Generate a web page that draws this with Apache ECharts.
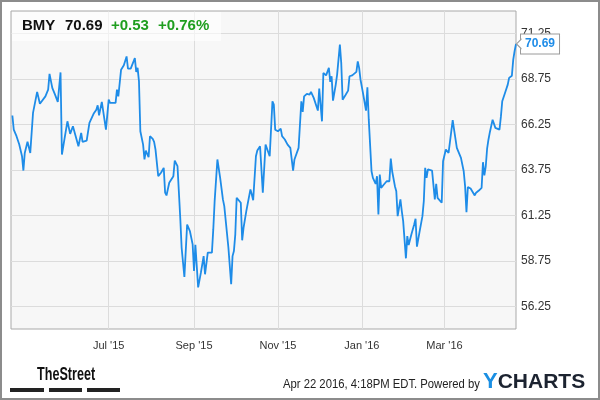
<!DOCTYPE html>
<html><head><meta charset="utf-8">
<script src="https://cdn.jsdelivr.net/npm/echarts@6/dist/echarts.min.js"></script>
<style>html,body{margin:0;padding:0;background:#fff}#c{width:600px;height:400px}</style>
</head><body><div id="c"></div>
<script>
const dates = [
'2015-04-22','2015-04-23','2015-04-25','2015-04-27','2015-04-29','2015-04-30','2015-05-01','2015-05-03','2015-05-05','2015-05-07',
'2015-05-10','2015-05-12','2015-05-13','2015-05-16','2015-05-18','2015-05-19','2015-05-21','2015-05-23','2015-05-25','2015-05-27',
'2015-05-28','2015-05-30','2015-06-01','2015-06-03','2015-06-05','2015-06-07','2015-06-09','2015-06-11','2015-06-12','2015-06-15',
'2015-06-17','2015-06-20','2015-06-22','2015-06-23','2015-06-24','2015-06-26','2015-06-29','2015-07-01','2015-07-02','2015-07-06',
'2015-07-07','2015-07-08','2015-07-10','2015-07-12','2015-07-14','2015-07-15','2015-07-17','2015-07-20','2015-07-21','2015-07-22',
'2015-07-23','2015-07-24','2015-07-26','2015-07-27','2015-07-28','2015-07-30','2015-07-31','2015-08-02','2015-08-03','2015-08-04',
'2015-08-05','2015-08-06','2015-08-08','2015-08-10','2015-08-11','2015-08-12','2015-08-14','2015-08-17','2015-08-18','2015-08-20',
'2015-08-22','2015-08-23','2015-08-25','2015-08-27','2015-08-29','2015-08-31','2015-09-01','2015-09-02','2015-09-04','2015-09-06',
'2015-09-08','2015-09-09','2015-09-11','2015-09-14','2015-09-15','2015-09-16','2015-09-18','2015-09-20','2015-09-22','2015-09-23',
'2015-09-24','2015-09-26','2015-09-28','2015-09-29','2015-09-30','2015-10-01','2015-10-02','2015-10-05','2015-10-06','2015-10-07',
'2015-10-08','2015-10-09','2015-10-12','2015-10-13','2015-10-14','2015-10-16','2015-10-17','2015-10-19','2015-10-21','2015-10-23',
'2015-10-26','2015-10-28','2015-10-29','2015-10-30','2015-11-01','2015-11-02','2015-11-03','2015-11-04','2015-11-06','2015-11-08',
'2015-11-10','2015-11-12','2015-11-13','2015-11-16','2015-11-18','2015-11-19','2015-11-20','2015-11-22','2015-11-24','2015-11-25',
'2015-11-27','2015-11-30','2015-12-01','2015-12-03','2015-12-04','2015-12-06','2015-12-07','2015-12-08','2015-12-09','2015-12-10',
'2015-12-11','2015-12-13','2015-12-14','2015-12-16','2015-12-17','2015-12-18','2015-12-20','2015-12-22','2015-12-23','2015-12-25',
'2015-12-28','2015-12-29','2015-12-30','2015-12-31','2016-01-02','2016-01-04','2016-01-05','2016-01-06','2016-01-08','2016-01-09',
'2016-01-11','2016-01-12','2016-01-13','2016-01-14','2016-01-15','2016-01-17','2016-01-19','2016-01-20','2016-01-21','2016-01-22',
'2016-01-23','2016-01-25','2016-01-26','2016-01-27','2016-01-29','2016-01-30','2016-01-31','2016-02-02','2016-02-03','2016-02-04',
'2016-02-06','2016-02-08','2016-02-09','2016-02-10','2016-02-12','2016-02-14','2016-02-15','2016-02-16','2016-02-17','2016-02-18',
'2016-02-21','2016-02-23','2016-02-24','2016-02-25','2016-02-28','2016-02-29','2016-03-02','2016-03-03','2016-03-04','2016-03-07',
'2016-03-08','2016-03-10','2016-03-11','2016-03-13','2016-03-15','2016-03-16','2016-03-17','2016-03-18','2016-03-20','2016-03-21',
'2016-03-23','2016-03-24','2016-03-26','2016-03-28','2016-03-29','2016-03-30','2016-03-31','2016-04-01','2016-04-02','2016-04-03',
'2016-04-04','2016-04-05','2016-04-07','2016-04-08','2016-04-10','2016-04-11','2016-04-12','2016-04-14','2016-04-16','2016-04-17',
'2016-04-19','2016-04-20','2016-04-21','2016-04-22'
];
const prices = [
66.75,65.97,65.61,65.15,64.51,63.72,64.69,65.30,64.69,66.89,
68.05,67.40,67.40,67.80,68.17,69.04,68.27,67.90,67.50,69.12,
64.60,65.52,66.43,65.74,66.16,65.61,65.06,65.79,65.30,65.37,
66.34,66.84,67.07,67.31,66.76,67.50,65.97,67.62,67.44,67.44,
68.17,67.80,69.27,69.51,70.00,69.33,69.33,69.91,69.15,69.37,
68.63,65.88,65.15,64.33,64.82,64.45,65.61,65.46,65.30,64.88,
64.97,63.41,63.60,63.87,62.50,62.35,63.05,63.41,64.27,63.96,
61.12,59.47,57.86,60.75,60.39,59.66,58.19,59.63,57.29,58.10,
59.01,58.01,59.20,59.20,60.48,62.04,64.33,63.32,62.13,61.76,
61.76,59.47,57.46,59.01,59.29,60.21,62.22,61.95,59.88,60.57,
60.48,61.49,62.68,62.40,62.09,64.51,64.82,65.06,62.50,65.15,
64.51,67.53,67.35,65.97,65.88,65.79,66.03,65.61,65.43,65.15,
64.97,63.72,64.33,64.97,67.53,66.95,67.80,67.94,67.90,68.05,
67.72,67.02,68.23,66.43,69.09,68.96,68.85,69.37,68.60,68.91,
67.57,68.45,69.00,70.65,69.64,67.62,67.86,68.12,68.91,68.96,
69.15,69.73,69.37,68.72,67.90,67.02,68.30,66.52,63.68,63.32,
62.99,63.41,61.30,63.50,62.77,62.95,63.13,63.23,63.13,64.38,
63.68,62.86,62.58,61.21,62.13,61.49,60.94,58.89,60.11,59.62,
60.21,60.75,61.07,59.53,60.39,61.21,62.04,63.87,63.32,63.78,
63.72,62.13,62.99,62.22,61.95,64.23,64.88,64.97,64.69,66.49,
65.97,64.97,64.88,64.42,63.68,62.86,61.43,62.81,62.73,62.77,
62.35,62.50,62.62,62.77,64.18,63.45,63.93,64.92,65.43,65.83,
65.74,66.52,66.07,66.01,65.97,66.67,67.53,67.99,68.45,68.82,
68.94,69.82,70.30,70.69
];
const yTicks = [56.25, 58.75, 61.25, 63.75, 66.25, 68.75, 71.25];
const xTicks = ['2015-07-01','2015-09-01','2015-11-01','2016-01-01','2016-03-01'];
const xTickLabels = ["Jul '15", "Sep '15", "Nov '15", "Jan '16", "Mar '16"];
const xRange = ['2015-04-21', '2016-04-22'];
const headerTexts = ['BMY', '70.69', '+0.53', '+0.76%'];
const footerText = 'Apr 22 2016, 4:18PM EDT. Powered by';

const FONT = "'Liberation Sans', Arial, sans-serif";
const toTs = s => { const p = s.split('-').map(Number); return Date.UTC(p[0], p[1] - 1, p[2]); };
const xTickTs = xTicks.map(toTs);
const lineColor = '#1e8ce8';
const green = '#1f9e1f';
const seriesData = dates.map((d, i) => [toTs(d), prices[i]]);

const chart = echarts.init(document.getElementById('c'), null, {renderer: 'canvas'});
chart.setOption({
  animation: false,
  backgroundColor: '#ffffff',
  grid: {left: 11, right: 84, top: 11, bottom: 71, show: true, backgroundColor: '#f7f7f7', borderColor: '#a9a9a9', borderWidth: 1},
  xAxis: {
    type: 'value', min: toTs(xRange[0]), max: toTs(xRange[1]), scale: true,
    axisLine: {show: false}, axisTick: {show: false, customValues: xTickTs},
    splitLine: {show: true, lineStyle: {color: '#dcdcdc', width: 1}},
    axisLabel: {customValues: xTickTs, color: '#333', fontSize: 11, fontFamily: FONT, margin: 11,
      formatter: v => { const i = xTickTs.indexOf(v); return i >= 0 ? xTickLabels[i] : ''; }}
  },
  yAxis: {
    type: 'value', position: 'right', min: 55, max: 72.5,
    axisLine: {show: false}, axisTick: {show: false, customValues: yTicks},
    splitLine: {show: true, lineStyle: {color: '#dcdcdc', width: 1}},
    axisLabel: {customValues: yTicks, color: '#333', fontSize: 12, fontFamily: FONT, margin: 5,
      formatter: v => v.toFixed(2)}
  },
  series: [{
    type: 'line', data: seriesData,
    showSymbol: false, symbol: 'none',
    lineStyle: {color: lineColor, width: 1.8}, itemStyle: {color: lineColor},
    endLabel: {show: true, formatter: p => p.value[1].toFixed(2), color: lineColor, fontWeight: 'bold',
      fontSize: 12, fontFamily: FONT, backgroundColor: '#fff', borderColor: '#9a9a9a', borderWidth: 1,
      padding: [4, 4, 3, 4], distance: 5},
    markPoint: {silent: true, symbol: 'path://M10,0 L0,6 L10,12', symbolSize: [5, 10], symbolOffset: [3, 0],
      itemStyle: {color: '#fff', borderColor: '#9a9a9a', borderWidth: 1}, label: {show: false},
      data: [{coord: seriesData[seriesData.length - 1]}]}
  }],
  graphic: [
    {type: 'rect', z: 50, shape: {x: 1, y: 1, width: 598, height: 398}, style: {fill: 'none', stroke: '#8c8c8c', lineWidth: 2}},
    {type: 'rect', z: 5, shape: {x: 12, y: 12, width: 209, height: 29}, style: {fill: 'rgba(255,255,255,0.6)'}},
    {type: 'text', z: 6, x: 22, y: 26, style: {text: headerTexts[0], fill: '#111', font: "bold 15px " + FONT, textVerticalAlign: 'middle'}},
    {type: 'text', z: 6, x: 65, y: 26, style: {text: headerTexts[1], fill: '#111', font: "bold 15px " + FONT, textVerticalAlign: 'middle'}},
    {type: 'text', z: 6, x: 111, y: 26, style: {text: headerTexts[2], fill: green, font: "bold 15px " + FONT, textVerticalAlign: 'middle'}},
    {type: 'text', z: 6, x: 158, y: 26, style: {text: headerTexts[3], fill: green, font: "bold 15px " + FONT, textVerticalAlign: 'middle'}},
    {type: 'text', z: 6, x: 37, y: 375, scaleX: 0.7, style: {text: 'TheStreet', fill: '#111', font: "bold 18px " + FONT, textVerticalAlign: 'middle'}},
    {type: 'rect', z: 6, shape: {x: 10, y: 388, width: 34, height: 4}, style: {fill: '#222'}},
    {type: 'rect', z: 6, shape: {x: 49, y: 388, width: 33, height: 4}, style: {fill: '#222'}},
    {type: 'rect', z: 6, shape: {x: 87, y: 388, width: 33, height: 4}, style: {fill: '#222'}},
    {type: 'text', z: 6, x: 283, y: 385, scaleX: 0.94, style: {text: footerText, fill: '#222', font: "12px " + FONT, textVerticalAlign: 'middle'}},
    {type: 'text', z: 6, x: 483, y: 382, style: {text: '{y|Y}{c|CHARTS}', textVerticalAlign: 'middle',
      rich: {y: {fill: '#1a8fe3', font: "bold 22px " + FONT}, c: {fill: '#1c2330', font: "bold 21px " + FONT}}}}
  ]
});
</script></body></html>
